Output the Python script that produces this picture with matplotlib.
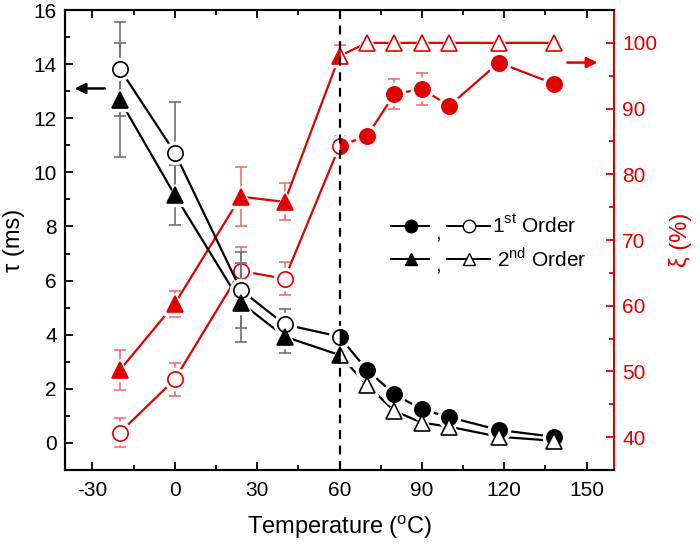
import matplotlib
matplotlib.use('Agg')
import matplotlib.pyplot as plt
from matplotlib.ticker import MultipleLocator

plt.rcParams['font.family'] = ['Liberation Sans', 'DejaVu Sans']
plt.rcParams['mathtext.fontset'] = 'custom'
plt.rcParams['mathtext.rm'] = 'Liberation Sans'
plt.rcParams['axes.unicode_minus'] = False

# data
temp = [-20, 0, 24, 40, 60, 70, 80, 90, 100, 118, 138]
tau1 = [13.82, 10.73, 5.66, 4.38, 3.93, 2.70, 1.80, 1.24, 0.95, 0.48, 0.23]
tau1_err = [1.75, 1.88, 1.4, 0.56, 0.2, 0.2, 0.2, 0.2, 0.15, 0.12, 0.1]
tau2 = [12.67, 9.16, 5.19, 3.93, 3.25, 2.14, 1.18, 0.75, 0.60, 0.23, 0.08]
tau2_err = [2.1, 1.1, 1.45, 0.6, 0.3, 0.35, 0.4, 0.33, 0.3, 0.33, 0.25]
xi1 = [40.7, 48.8, 65.3, 64.1, 84.3, 85.8, 92.2, 93.0, 90.4, 97.0, 93.8]
xi1_err = [2.2, 2.5, 3.7, 2.5, 1.5, 0.8, 2.3, 2.4, 1.1, 0.6, 1.3]
xi2 = [50.2, 60.3, 76.6, 75.8, 98.0, 100, 100, 100, 100, 100, 100]
xi2_err = [3.1, 2.0, 4.5, 2.8, 1.6, 0, 0, 0, 0, 0, 0]

# fill per point: circles open below 60 C, filled above; triangles the other way round
circ_fill = ['none'] * 4 + ['right'] + ['full'] * 6
tri_fill = ['full'] * 4 + ['left'] + ['none'] * 6

RED = '#e00000'
MS = 11

fig = plt.figure(figsize=(7, 5.45), dpi=100)
ax = fig.add_axes([65 / 700, 1 - 470 / 545, 549 / 700, 460 / 545])
ax2 = ax.twinx()


def draw_series(a, x, y, err, marker, fills, color, ecolor):
    a.errorbar(x, y, yerr=err, fmt='none', ecolor=ecolor, elinewidth=1.2,
               capsize=4, capthick=1.2, zorder=2)
    a.plot(x, y, '-', color=color, lw=1.6, zorder=3)
    # white halo gives the Origin-style gap between line and symbol
    a.plot(x, y, ls='none', marker=marker, ms=MS + 5, mfc='white', mec='white', zorder=4)
    for xi, yi, f in zip(x, y, fills):
        if f == 'none':
            a.plot(xi, yi, marker=marker, ms=MS, mfc='white', mec=color, mew=1.2, zorder=5)
        elif f == 'full':
            a.plot(xi, yi, marker=marker, ms=MS, mfc=color, mec=color, mew=1.2, zorder=5)
        else:
            a.plot(xi, yi, marker=marker, ms=MS, fillstyle=f, mfc=color,
                   markerfacecoloralt='white', mec=color, mew=1.2, zorder=5)


draw_series(ax2, temp, xi1, xi1_err, 'o', circ_fill, RED, '#f07070')
draw_series(ax2, temp, xi2, xi2_err, '^', tri_fill, RED, '#f07070')
draw_series(ax, temp, tau1, tau1_err, 'o', circ_fill, 'black', '#707070')
draw_series(ax, temp, tau2, tau2_err, '^', tri_fill, 'black', '#707070')

ax.set_zorder(ax2.get_zorder() + 1)
ax.patch.set_visible(False)

ax.axvline(60, color='black', ls=(0, (4, 3)), lw=1.6, zorder=1)

# axis arrows
ax.annotate('', xy=(-37.5, 13.1), xytext=(-24.5, 13.1),
            arrowprops=dict(arrowstyle='-|>', color='black', lw=1.8, mutation_scale=16))
ax2.annotate('', xy=(155, 97.0), xytext=(142, 97.0),
             arrowprops=dict(arrowstyle='-|>', color=RED, lw=1.8, mutation_scale=16))

ax.set_xlim(-40, 160)
ax.set_ylim(-1, 16)
ax2.set_ylim(35, 105)

ax.xaxis.set_major_locator(MultipleLocator(30))
ax.xaxis.set_minor_locator(MultipleLocator(15))
ax.yaxis.set_major_locator(MultipleLocator(2))
ax.yaxis.set_minor_locator(MultipleLocator(1))
ax2.yaxis.set_major_locator(MultipleLocator(10))
ax2.yaxis.set_minor_locator(MultipleLocator(5))

ax.tick_params(axis='both', which='both', direction='in', width=1.3, labelsize=15)
ax.tick_params(axis='x', which='both', top=True, pad=8)
ax.tick_params(axis='y', which='both', right=False, pad=6)
ax.tick_params(which='major', length=6)
ax.tick_params(which='minor', length=3.5)
ax2.tick_params(axis='y', which='both', direction='in', width=1.3, colors=RED,
                labelsize=15, pad=6)
ax2.tick_params(which='major', length=6)
ax2.tick_params(which='minor', length=3.5)

for s in ax.spines.values():
    s.set_linewidth(1.5)
for s in ax2.spines.values():
    s.set_linewidth(1.5)
ax.spines['right'].set_visible(False)
ax2.spines['right'].set_color(RED)

ax.set_xlabel('Temperature ($^{\\rm o}$C)', fontsize=17, labelpad=9)
ax.set_ylabel('τ (ms)', fontsize=17, labelpad=6)
ax2.set_ylabel('ξ (%)', fontsize=17, color=RED, labelpad=8)

# hand-made legend, in axes fractions
rows = [(0.530, 'o', '1$^{\\rm st}$ Order', 0.778),
        (0.459, '^', '2$^{\\rm nd}$ Order', 0.787)]
for yy, mk, label, tx in rows:
    ax.plot([0.594, 0.663], [yy, yy], color='black', lw=1.4, transform=ax.transAxes, clip_on=False)
    ax.plot(0.630, yy, marker=mk, ms=9, color='black', mec='black', transform=ax.transAxes)
    ax.text(0.674, yy - 0.014, ',', fontsize=15, va='center', transform=ax.transAxes)
    ax.plot([0.696, 0.774], [yy, yy], color='black', lw=1.4, transform=ax.transAxes, clip_on=False)
    ax.plot(0.736, yy, marker=mk, ms=9, mfc='white', mec='black', mew=1.0, transform=ax.transAxes)
    ax.text(tx, yy, label, fontsize=15, va='center', ha='left', transform=ax.transAxes)

fig.savefig('out.png', dpi=100)
